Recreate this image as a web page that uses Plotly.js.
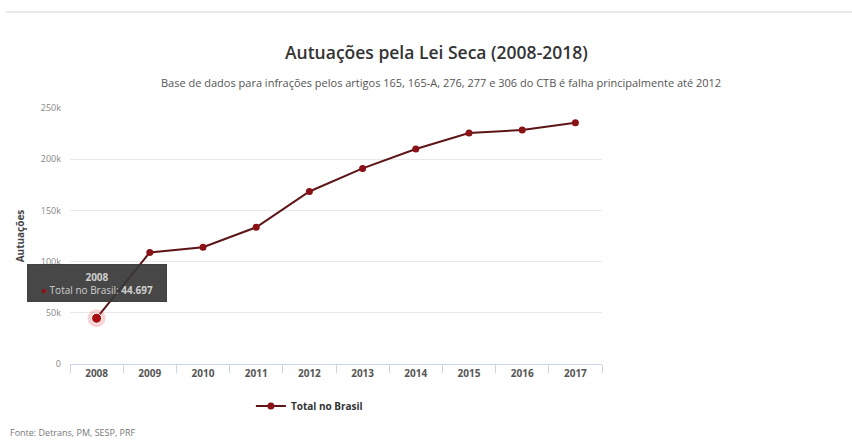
<!DOCTYPE html>
<html>
<head>
<meta charset="utf-8">
<script src="https://cdn.plot.ly/plotly-3.0.1.min.js"></script>
<style>
html,body{margin:0;padding:0;background:#fff;}
#chart{width:852px;height:440px;}
</style>
</head>
<body>
<div id="chart"></div>
<script>
const years = ["2008","2009","2010","2011","2012","2013","2014","2015","2016","2017"];
const totalBrasil = [44697, 109000, 114000, 133500, 168500, 191000, 210000, 225500, 228500, 235500];
const yTickVals = [0, 50000, 100000, 150000, 200000, 250000];
const yTickText = ["0", "50k", "100k", "150k", "200k", "250k"];
const seriesName = "Total no Brasil";

const lineColor = "#5e1517";
const markerColor = "#8a1216";
const hoverIndex = 0;

const traces = [
  {
    x: years, y: totalBrasil, name: seriesName,
    type: "scatter", mode: "lines+markers",
    line: {color: lineColor, width: 2},
    marker: {size: 7, color: markerColor}
  },
  {
    x: [years[hoverIndex]], y: [totalBrasil[hoverIndex]],
    type: "scatter", mode: "markers",
    marker: {size: 18, color: "rgba(220,60,60,0.22)"},
    showlegend: false, hoverinfo: "skip"
  },
  {
    x: [years[hoverIndex]], y: [totalBrasil[hoverIndex]],
    type: "scatter", mode: "markers",
    marker: {size: 10, color: "#a80d12", line: {color: "#ffffff", width: 1}},
    showlegend: false, hoverinfo: "skip"
  }
];

const fmt = v => String(v).replace(/\B(?=(\d{3})+(?!\d))/g, ".");

const layout = {
  width: 852, height: 440,
  margin: {l: 70, r: 250, t: 108, b: 76},
  paper_bgcolor: "#ffffff", plot_bgcolor: "#ffffff",
  font: {family: "Open Sans, sans-serif", color: "#666666", size: 10},
  showlegend: true,
  legend: {
    orientation: "h", x: 0.45, xanchor: "center", y: -0.164, yanchor: "middle",
    font: {size: 10, color: "#333333", family: "Open Sans, sans-serif", weight: "bold"}
  },
  xaxis: {
    type: "category",
    categoryorder: "array", categoryarray: years,
    range: [-0.5, years.length - 0.5],
    automargin: false,
    showgrid: false,
    showline: true, linecolor: "#ccd6eb", linewidth: 1,
    ticks: "outside", tickson: "boundaries", ticklen: 8, tickcolor: "#ccd6eb",
    tickangle: 0,
    tickfont: {size: 10, color: "#555555", weight: "bold"},
    fixedrange: true
  },
  yaxis: {
    range: [0, 250000],
    automargin: false,
    tickvals: yTickVals, ticktext: yTickText,
    showgrid: true, gridcolor: "#e9e9e9", gridwidth: 1,
    zeroline: false, showline: false,
    ticks: "", ticklabelstandoff: 8,
    tickfont: {size: 9, color: "#888888"},
    title: {text: "Autuações", font: {size: 10, color: "#444444", weight: "bold"}, standoff: 14}
  },
  annotations: [
    {
      xref: "paper", yref: "paper", x: 0.688, y: 1.219, xanchor: "center", yanchor: "middle",
      text: "Autuações pela Lei Seca (2008-2018)", showarrow: false,
      font: {size: 17.5, color: "#333333", family: "Open Sans, sans-serif", weight: 600}
    },
    {
      xref: "paper", yref: "paper", x: 0.697, y: 1.10, xanchor: "center", yanchor: "middle",
      text: "Base de dados para infrações pelos artigos 165, 165-A, 276, 277 e 306 do CTB é falha principalmente até 2012",
      showarrow: false,
      font: {size: 11, color: "#555555", family: "Open Sans, sans-serif"}
    },
    {
      xref: "paper", yref: "paper", x: -0.1165, xanchor: "left", y: -0.266, yanchor: "middle",
      text: "Fonte: Detrans, PM, SESP, PRF", showarrow: false,
      font: {size: 9, color: "#777777", family: "Open Sans, sans-serif"}
    },
    {
      x: hoverIndex, y: totalBrasil[hoverIndex], xref: "x", yref: "y",
      text: "<b>" + years[hoverIndex] + "</b><br><span style='color:#8c1014'>●</span> " + seriesName + ": <b>" + fmt(totalBrasil[hoverIndex]) + "</b>",
      showarrow: true, arrowhead: 0, arrowwidth: 0.1, arrowcolor: "rgba(0,0,0,0)",
      ax: 0, ay: -35, standoff: 0,
      bgcolor: "rgba(55,55,55,0.92)", bordercolor: "rgba(55,55,55,0.92)", borderwidth: 1,
      borderpad: 4, width: 130, height: 28,
      font: {size: 10, color: "#cfcfcf"}, align: "center"
    }
  ],
  shapes: [
    {
      type: "line", xref: "paper", yref: "paper",
      x0: -0.12, x1: 1.47, y0: 1.375, y1: 1.375,
      line: {color: "#e8e8e8", width: 2}
    }
  ]
};

Plotly.newPlot("chart", traces, layout, {displayModeBar: false, staticPlot: true});
</script>
</body>
</html>
